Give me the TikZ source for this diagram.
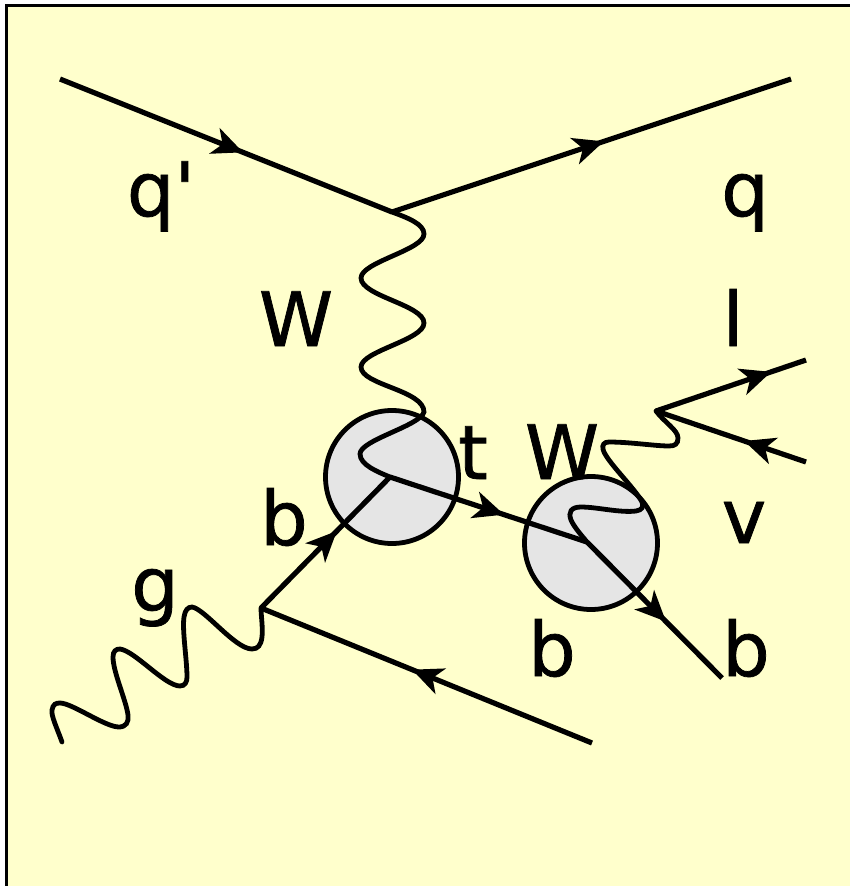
\documentclass[tikz,border=0pt]{standalone}
\usepackage{fontspec}
\newfontfamily\labf[FakeBold=1]{DejaVu Sans}
\usetikzlibrary{decorations.markings,arrows.meta}
\definecolor{bgy}{RGB}{255,255,204}
\definecolor{blob}{RGB}{229,229,229}
\tikzset{
  line/.style={line width=5.2pt,line join=miter,black},
  wave/.style={line width=4.8pt,line cap=round,black},
  blobc/.style={circle,draw=black,fill=blob,line width=4.8pt,minimum size=#1,inner sep=0pt},
  lab/.style={font=\labf\fontsize{75}{75}\selectfont,text=black,inner sep=0pt},
  fwd/.style={postaction={decorate},decoration={markings,mark=at position #1 with {\fill[black] (13,0) -- (-18,-14) -- (-9,0) -- (-18,14) -- cycle;}}},
}
\begin{document}
\begin{tikzpicture}[x=1pt,y=-1pt]
\useasboundingbox (0,0) rectangle (850,886);
\fill[white] (0,0) rectangle (850,886);
\fill[bgy] (6,5) rectangle (850,886);
\draw[line width=3pt] (6,886) -- (6,5) -- (850,5);
% vertices
\coordinate (qin) at (60,79);
\coordinate (v1) at (392,212);
\coordinate (qout) at (791,79);
\coordinate (gin) at (62,742);
\coordinate (v2) at (261,608);
\coordinate (bout) at (592,743);
\coordinate (v3) at (656,411);
\coordinate (lout) at (806,360);
\coordinate (nuin) at (806,462);
\coordinate (bend) at (722,678);
% blobs
\node[blobc=133pt] (A) at (392,477) {};
\node[blobc=133pt] (B) at (591,543) {};
\coordinate (cA) at (390,477);
\coordinate (cB) at (587,542);
% fermion lines
\draw[line,fwd=0.515] (qin) -- (v1);
\draw[line,fwd=0.50] (v1) -- (qout);
\draw[line,fwd=0.517] (v2) -- (cA);
\draw[line,fwd=0.507] (bout) -- (v2);
\draw[line,fwd=0.516] (cA) -- (cB);
\draw[line,fwd=0.517] (cB) -- (bend);
\draw[line,fwd=0.685] (v3) -- (lout);
\draw[line,fwd=0.33] (nuin) -- (v3);
% W from upper vertex
\draw[wave] (v1) .. controls (408,218) and (424,224) .. (424,234)
 .. controls (424,250) and (361,262) .. (361,278)
 .. controls (361,296) and (424,305) .. (424,323)
 .. controls (424,340) and (361,351) .. (361,367)
 .. controls (361,385) and (424,390) .. (424,412)
 .. controls (420,426) and (360,440) .. (360,454)
 .. controls (360,465) and (378,472) .. (cA);
% second W
\draw[wave] (v3) .. controls (664,422) and (678,430) .. (678,438)
 .. controls (678,444) and (675,446) .. (669,446)
 .. controls (655,446) and (630,442) .. (609,442)
 .. controls (604,442) and (602,445) .. (603,449)
 .. controls (605,460) and (635,488) .. (642,502)
 .. controls (644,507) and (642,510) .. (636,511)
 .. controls (620,513) and (597,507) .. (581,507)
 .. controls (571,507) and (568,512) .. (571,520)
 .. controls (574,527) and (582,536) .. (cB);
% gluon
\draw[wave] (gin) .. controls (57,728) and (51,716) .. (52,710)
 .. controls (53,704) and (56,703) .. (60,703)
 .. controls (72,703) and (105,727) .. (119,727)
 .. controls (126,727) and (129,722) .. (128,715)
 .. controls (126,700) and (113,672) .. (113,657)
 .. controls (113,651) and (116,649) .. (120,649)
 .. controls (135,651) and (165,686) .. (180,686)
 .. controls (185,686) and (187,682) .. (187,677)
 .. controls (187,660) and (182,630) .. (184,617)
 .. controls (185,610) and (188,607) .. (192,607)
 .. controls (205,609) and (235,649) .. (252,649)
 .. controls (258,649) and (261,645) .. (262,637)
 .. controls (263,628) and (261,615) .. (v2);
% labels
\node[lab,anchor=base] (tq1) at (161,216) {q'};
\node[lab,anchor=base] (tq) at (745,216) {q};
\node[lab,anchor=base] (tW1) at (296,346) {W};
\node[lab,anchor=base] (tl) at (733,346) {l};
\node[lab,anchor=base] (tt) at (473,479) {t};
\node[lab,anchor=base] (tW2) at (562,479) {W};
\node[lab,anchor=base] (tv) at (744,543) {v};
\node[lab,anchor=base] (tb1) at (284,545) {b};
\node[lab,anchor=base] (tg) at (155,611) {g};
\node[lab,anchor=base] (tb2) at (552,676) {b};
\node[lab,anchor=base] (tb3) at (746,676) {b};
\end{tikzpicture}
\end{document}
